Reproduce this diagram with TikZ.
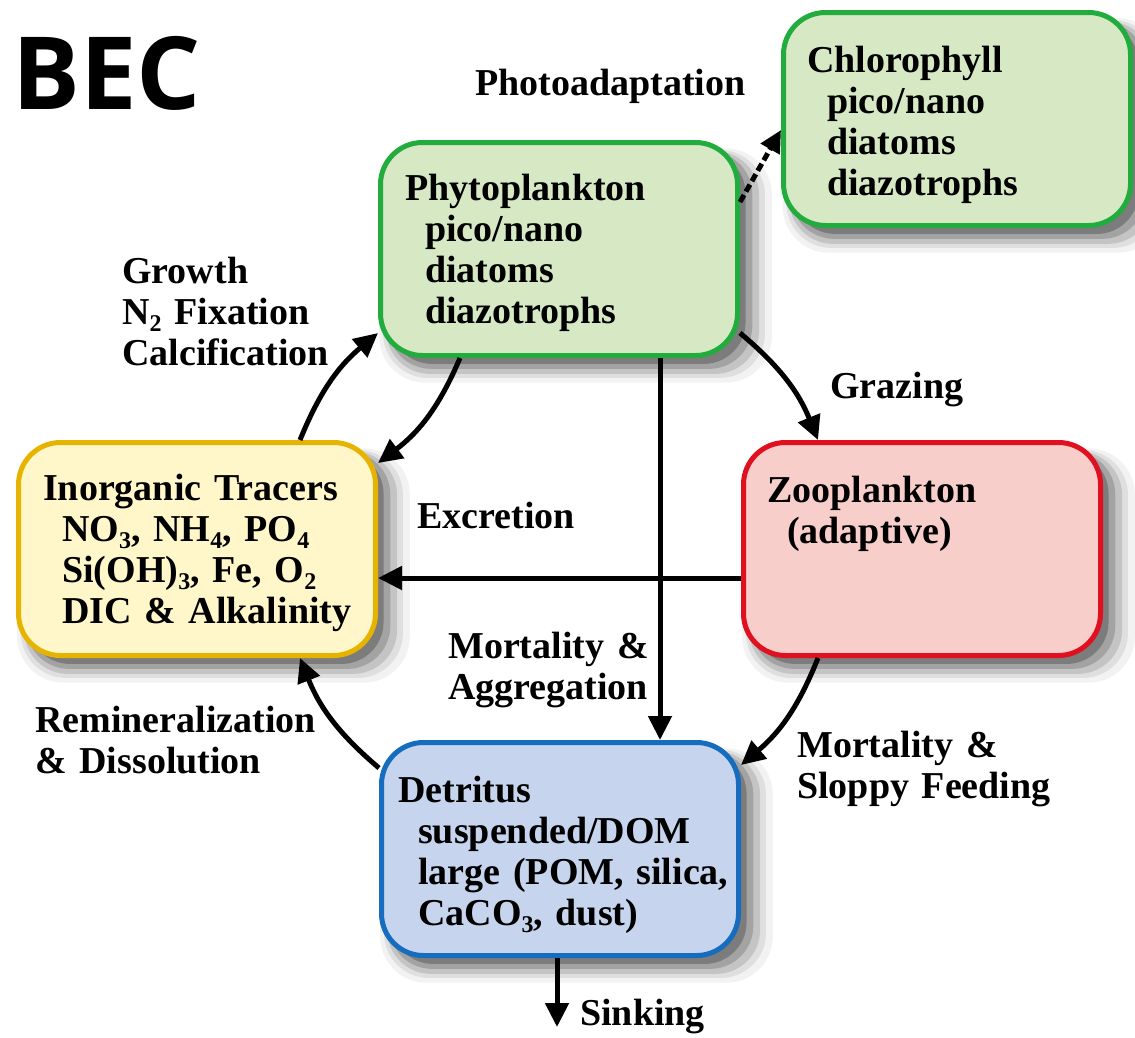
\documentclass[tikz,border=0pt]{standalone}
\usepackage{fontspec}
\setmainfont{Liberation Serif}
\newfontfamily\becfont{Open Sans}
\usetikzlibrary{arrows.meta,shadows}

\definecolor{grnfill}{RGB}{214,232,196}
\definecolor{grnline}{RGB}{34,172,62}
\definecolor{yelfill}{RGB}{255,247,202}
\definecolor{yelline}{RGB}{230,180,0}
\definecolor{pnkfill}{RGB}{247,206,202}
\definecolor{redline}{RGB}{224,16,32}
\definecolor{blufill}{RGB}{198,213,237}
\definecolor{bluline}{RGB}{22,108,190}

\newcommand{\lowsub}[1]{\raisebox{-7pt}{\fontsize{24}{24}\selectfont #1}}

\begin{document}
\begin{tikzpicture}[x=1pt,y=-1pt,
  boxshadow/.style={
    general shadow={shadow xshift=15pt,shadow yshift=-15pt,shadow scale=1.10,fill=black,opacity=0.05},
    general shadow={shadow xshift=14pt,shadow yshift=-14pt,shadow scale=1.07,fill=black,opacity=0.08},
    general shadow={shadow xshift=13pt,shadow yshift=-13pt,shadow scale=1.045,fill=black,opacity=0.12},
    general shadow={shadow xshift=11pt,shadow yshift=-11pt,shadow scale=1.02,fill=black,opacity=0.17},
    general shadow={shadow xshift=9pt,shadow yshift=-9pt,shadow scale=0.995,fill=black,opacity=0.24}},
  box/.style={draw, line width=5pt, rounded corners=42pt, minimum width=357pt,
    minimum height=213pt, inner sep=0pt, boxshadow},
  txt/.style={anchor=base west, inner sep=0pt, align=left, text width=345pt,
    font=\fontsize{38}{41}\selectfont\bfseries},
  lbl/.style={txt, text width=330pt},
  flow/.style={line width=5pt, -{Triangle[length=24pt,width=23pt]}},
  dflow/.style={line width=5pt, dash pattern=on 8pt off 4pt, -{Triangle[length=22pt,width=21pt]}},
]
\useasboundingbox (0,0) rectangle (1135,1037);

% title
\node[anchor=base west, inner sep=0pt, font=\becfont\fontsize{101}{101}\selectfont\bfseries] (title) at (12,109) {BEC};

% boxes
\node[box, draw=grnline, fill=grnfill] (phyto) at (559,249) {};
\node[box, draw=grnline, fill=grnfill, minimum width=347pt] (chl) at (957,119) {};
\node[box, draw=yelline, fill=yelfill] (inorg) at (197,549) {};
\node[box, draw=redline, fill=pnkfill] (zoo) at (922,549) {};
\node[box, draw=bluline, fill=blufill] (det) at (560,849) {};

% box texts
\node[txt] (phytotxt) at (405,200) {Phytoplankton\\\hspace*{20pt}pico/nano\\\hspace*{20pt}diatoms\\\hspace*{20pt}diazotrophs};
\node[txt, text width=320pt] (chltxt) at (807,72) {Chlorophyll\\\hspace*{20pt}pico/nano\\\hspace*{20pt}diatoms\\\hspace*{20pt}diazotrophs};
\node[txt] (inorgtxt) at (43,500) {Inorganic Tracers\\\hspace*{19pt}NO\lowsub{3}, NH\lowsub{4}, PO\lowsub{4}\\\hspace*{19pt}Si(OH)\lowsub{3}, Fe, O\lowsub{2}\\\hspace*{19pt}DIC \& Alkalinity};
\node[txt] (zootxt) at (767,502) {Zooplankton\\\hspace*{20pt}(adaptive)};
\node[txt] (dettxt) at (398,802) {Detritus\\\hspace*{20pt}suspended/DOM\\\hspace*{20pt}large (POM, silica,\\\hspace*{20pt}CaCO\lowsub{3}, dust)};

% labels
\node[lbl] (lphoto) at (475,95) {Photoadaptation};
\node[lbl] (lgrowth) at (122,283) {Growth\\N\lowsub{2} Fixation\\Calcification};
\node[lbl] (lgraz) at (830,398) {Grazing};
\node[lbl] (lexcr) at (417,528) {Excretion};
\node[lbl] (lmort) at (448,658) {Mortality \&\\Aggregation};
\node[lbl] (lremin) at (35,732) {Remineralization\\\& Dissolution};
\node[lbl] (lslop) at (797,757) {Mortality \&\\Sloppy Feeding};
\node[lbl] (lsink) at (580,1025) {Sinking};

\coordinate (sinkend) at (557,1027);

% connectors
\draw[flow] ([xshift=103pt]inorg.north) to[bend left=14] ([yshift=-84pt]phyto.west);
\draw[flow] ([xshift=-99pt]phyto.south) to[bend left=15] ([yshift=86pt]inorg.east);
\draw[flow] ([yshift=-84pt]phyto.east) to[bend left=14] ([xshift=-104pt]zoo.north);
\draw[flow] ([xshift=101pt]phyto.south) -- ([xshift=100pt]det.north);
\draw[flow] ([yshift=-29pt]zoo.west) -- ([yshift=-29pt]inorg.east);
\draw[flow] ([xshift=-104pt]zoo.south) to[bend left=14] ([yshift=84pt]det.east);
\draw[flow] ([yshift=81pt]det.west) to[bend left=14] ([xshift=103pt]inorg.south);
\draw[flow] ([xshift=-3pt]det.south) -- (sinkend);
\draw[dflow] ([yshift=47pt]phyto.east) -- ([yshift=-11pt]chl.west);
\end{tikzpicture}
\end{document}
